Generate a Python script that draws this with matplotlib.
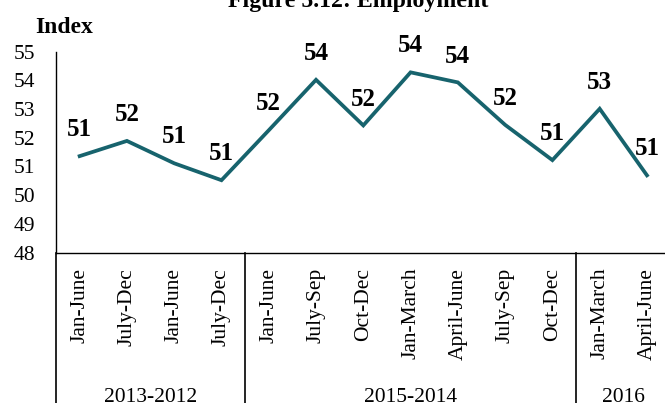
import matplotlib
matplotlib.use("Agg")
import matplotlib.pyplot as plt
import matplotlib.transforms as mtransforms

plt.rcParams['font.family'] = ['Liberation Serif', 'DejaVu Serif']

# data
periods = ["Jan-June", "July-Dec", "Jan-June", "July-Dec",
           "Jan-June", "July-Sep", "Oct-Dec", "Jan-March", "April-June",
           "July-Sep", "Oct-Dec",
           "Jan-March", "April-June"]
index_vals = [51.36, 51.89, 51.11, 50.52,
              52.26, 54.02, 52.43, 54.28, 53.93, 52.45, 51.22,
              53.01, 50.69]
groups = ["2013-2012", "2015-2014", "2016"]
group_sizes = [4, 7, 2]
yticks = [48, 49, 50, 51, 52, 53, 54, 55]

line_color = "#17636D"

W, H = 665, 403
fig = plt.figure(figsize=(W / 100, H / 100), dpi=100)
ax = fig.add_axes([56 / W, 150.5 / H, 614.6 / W, 200.8 / H])

x = list(range(len(periods)))
ax.plot(x, index_vals, color=line_color, lw=2.7, solid_joinstyle='miter')

for xi, v in zip(x, index_vals):
    ax.annotate(f"{v:.0f}", (xi, v), xytext=(0, 19), textcoords='offset points',
                ha='center', va='center', fontsize=18, fontweight='bold')

ax.set_xlim(-0.5, len(periods) - 0.5)
ax.set_ylim(48, 55)
ax.set_yticks(yticks)
ax.tick_params(axis='y', length=0, pad=15, labelsize=15.5)
ax.set_xticks(x)
ax.set_xticklabels(periods, rotation=90, va='top', ha='center')
ax.tick_params(axis='x', length=0, pad=11, labelsize=15.5)

for s in ['top', 'right']:
    ax.spines[s].set_visible(False)
for s in ['left', 'bottom']:
    ax.spines[s].set_linewidth(1.0)

# group separators and labels under the axis
trans = mtransforms.blended_transform_factory(ax.transData, ax.transAxes)
edges = [-0.5]
for n in group_sizes:
    edges.append(edges[-1] + n)
for e in edges:
    ax.plot([e, e], [0, -0.8], color='black', lw=1.2, transform=trans, clip_on=False)
for g, a, b in zip(groups, edges[:-1], edges[1:]):
    ax.text((a + b) / 2, -0.72, g, transform=trans, ha='center', va='center',
            fontsize=15.5)

fig.text(358 / W, 1 - 7 / H, "Figure 5.12: Employment", ha='center', va='baseline',
         fontsize=17.2, fontweight='bold')
fig.text(64 / W, 1 - 33 / H, "Index", ha='center', va='baseline',
         fontsize=17, fontweight='bold')

fig.savefig("out.png", dpi=100)
